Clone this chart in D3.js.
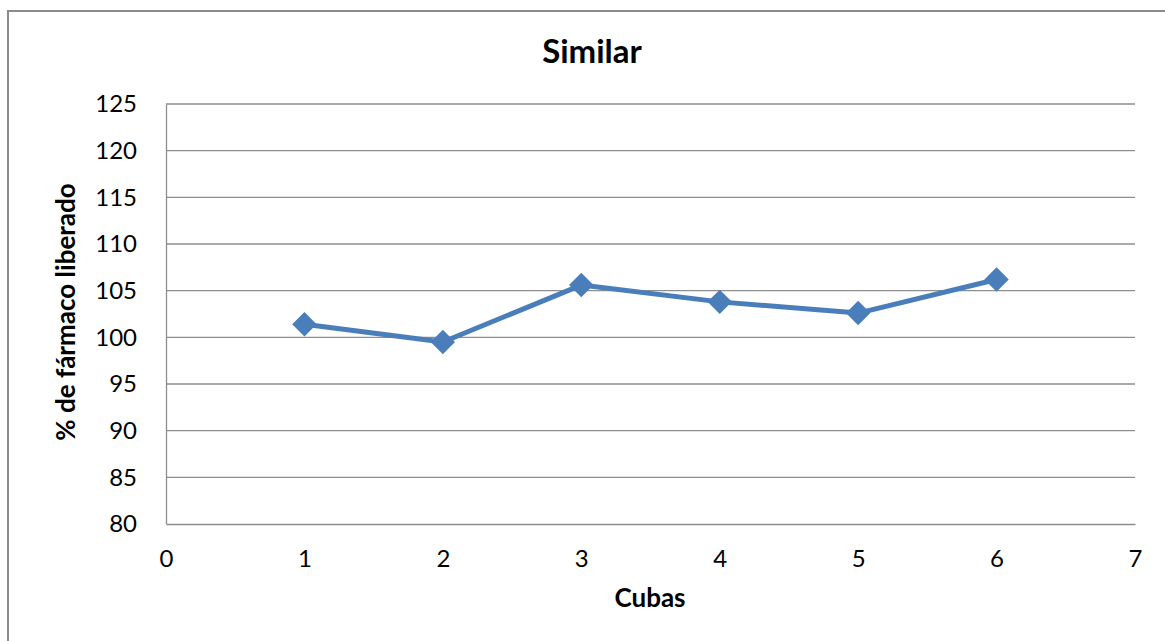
<!DOCTYPE html>
<html>
<head>
<meta charset="utf-8">
<script src="https://cdn.jsdelivr.net/npm/d3@7"></script>
<style>
  html, body { margin: 0; padding: 0; background: #fff; }
  svg { display: block; }
  text { font-family: Lato, "Open Sans", sans-serif; fill: #000; }
</style>
</head>
<body>
<svg id="chart" width="1165" height="641"></svg>
<script>
// Drug release per dissolution vessel
const cubas = [1, 2, 3, 4, 5, 6];
const liberado = [101.4, 99.5, 105.6, 103.8, 102.6, 106.2];
const xTicks = [0, 1, 2, 3, 4, 5, 6, 7];
const yTicks = [80, 85, 90, 95, 100, 105, 110, 115, 120, 125];

const titulo = "Similar";
const tituloX = "Cubas";
const tituloY = "% de fármaco liberado";

const svg = d3.select("#chart");
const W = 1165, H = 641;
const m = { left: 166, right: 1135, top: 104, bottom: 524 };
const lineColor = "#4a7ebb";
const gridColor = "#8e8e8e";

// outer chart frame
svg.append("rect")
  .attr("x", 8).attr("y", 11)
  .attr("width", W).attr("height", H)
  .attr("fill", "#fff")
  .attr("stroke", "#8a8a8a").attr("stroke-width", 2);

const x = d3.scaleLinear().domain([0, 7]).range([m.left, m.right]);
const y = d3.scaleLinear().domain([80, 125]).range([m.bottom, m.top]);

// horizontal gridlines
svg.append("g")
  .selectAll("line")
  .data(yTicks.filter(d => d > 80))
  .join("line")
  .attr("x1", m.left).attr("x2", m.right)
  .attr("y1", d => y(d)).attr("y2", d => y(d))
  .attr("stroke", gridColor).attr("stroke-width", 1.3);

// y axis
const yAxis = svg.append("g")
  .attr("transform", `translate(${m.left},0)`)
  .call(d3.axisLeft(y).tickValues(yTicks).tickSize(0).tickPadding(29).tickFormat(d3.format("d")));
yAxis.select(".domain").attr("stroke", gridColor).attr("stroke-width", 1.3);
yAxis.selectAll("text")
  .style("font-family", "Lato, sans-serif")
  .style("font-size", "24px")
  .attr("fill", "#000");

// x axis
const xAxis = svg.append("g")
  .attr("transform", `translate(0,${m.bottom})`)
  .call(d3.axisBottom(x).tickValues(xTicks).tickSize(0).tickPadding(26).tickFormat(d3.format("d")));
xAxis.select(".domain").attr("stroke", gridColor).attr("stroke-width", 1.3);
xAxis.selectAll("text")
  .style("font-family", "Lato, sans-serif")
  .style("font-size", "24px")
  .attr("fill", "#000");

// series line
const data = cubas.map((c, i) => ({ c, v: liberado[i] }));
svg.append("path")
  .datum(data)
  .attr("fill", "none")
  .attr("stroke", lineColor)
  .attr("stroke-width", 5)
  .attr("stroke-linejoin", "round")
  .attr("d", d3.line().x(d => x(d.c)).y(d => y(d.v)));

// diamond markers
const diamond = d3.symbol().type(d3.symbolDiamond2).size(380);
svg.append("g")
  .selectAll("path")
  .data(data)
  .join("path")
  .attr("transform", d => `translate(${x(d.c)},${y(d.v)})`)
  .attr("d", diamond)
  .attr("fill", lineColor);

// titles
svg.append("text")
  .attr("x", 592).attr("y", 63)
  .attr("text-anchor", "middle")
  .style("font-size", "33px").style("font-weight", "bold")
  .text(titulo);

svg.append("text")
  .attr("x", 650).attr("y", 607)
  .attr("text-anchor", "middle")
  .style("font-size", "26px").style("font-weight", "bold")
  .text(tituloX);

svg.append("text")
  .attr("transform", "translate(75,312) rotate(-90)")
  .attr("text-anchor", "middle")
  .style("font-size", "26px").style("font-weight", "bold")
  .text(tituloY);
</script>
</body>
</html>
